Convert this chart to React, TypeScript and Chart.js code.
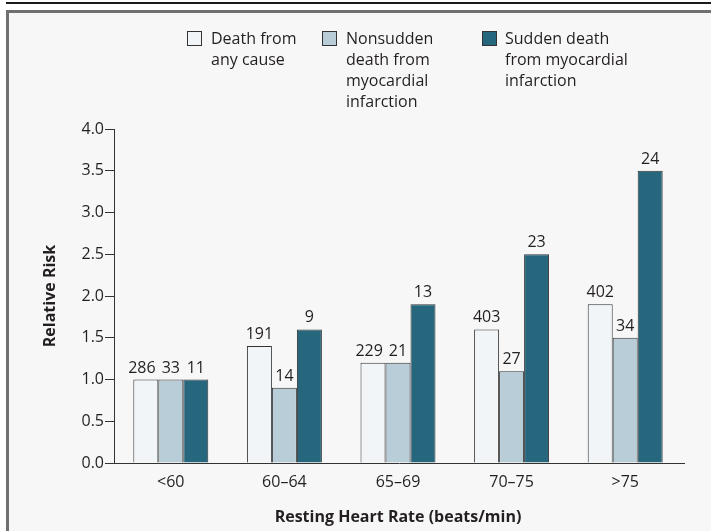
import React, { useEffect, useRef } from "react";
import { Chart, registerables } from "chart.js";

Chart.register(...registerables);

const categories = ["<60", "60–64", "65–69", "70–75", ">75"];
const anyCause = [1.0, 1.4, 1.2, 1.6, 1.9];
const nonsudden = [1.0, 0.9, 1.2, 1.1, 1.5];
const sudden = [1.0, 1.6, 1.9, 2.5, 3.5];
const anyCauseCounts = [286, 191, 229, 403, 402];
const nonsuddenCounts = [33, 14, 21, 27, 34];
const suddenCounts = [11, 9, 13, 23, 24];
const seriesLines = [
  ["Death from", "any cause"],
  ["Nonsudden", "death from", "myocardial", "infarction"],
  ["Sudden death", "from myocardial", "infarction"],
];
const seriesColors = ["#f1f5f8", "#b9cdd8", "#26677e"];
const yTitle = "Relative Risk";
const xTitle = "Resting Heart Rate (beats/min)";

const FONT = '"Open Sans", "Noto Sans", sans-serif';
const TEXT = "#231f20";

const counts = [anyCauseCounts, nonsuddenCounts, suddenCounts];

const valueLabels = {
  id: "valueLabels",
  afterDatasetsDraw(chart: any) {
    const ctx = chart.ctx;
    ctx.save();
    ctx.font = `16px ${FONT}`;
    ctx.fillStyle = TEXT;
    ctx.textAlign = "center";
    ctx.textBaseline = "alphabetic";
    const nData = chart.data.labels.length;
    const nSets = chart.data.datasets.length;
    const gap = 6;
    for (let j = 0; j < nData; j++) {
      const items: { x: number; y: number; w: number; t: string }[] = [];
      for (let i = 0; i < nSets; i++) {
        const bar = chart.getDatasetMeta(i).data[j];
        const t = String(counts[i][j]);
        items.push({ x: bar.x, y: bar.y - 7, w: ctx.measureText(t).width, t });
      }
      // nudge labels left when they would collide with the next one
      for (let i = nSets - 2; i >= 0; i--) {
        const a = items[i];
        const b = items[i + 1];
        if (Math.abs(a.y - b.y) < 14) {
          const aRight = a.x + a.w / 2;
          const bLeft = b.x - b.w / 2;
          if (aRight + gap > bLeft) a.x = bLeft - gap - a.w / 2;
        }
      }
      items.forEach((it) => ctx.fillText(it.t, it.x, it.y));
    }
    ctx.restore();
  },
};

const baseline = {
  id: "baseline",
  afterDraw(chart: any) {
    const { ctx, chartArea } = chart;
    ctx.save();
    ctx.strokeStyle = "#333";
    ctx.lineWidth = 1;
    ctx.beginPath();
    ctx.moveTo(chartArea.left, chartArea.bottom + 0.5);
    ctx.lineTo(chartArea.right + 3, chartArea.bottom + 0.5);
    ctx.stroke();
    ctx.restore();
  },
};

const legendPos = [
  { box: 187, text: 211 },
  { box: 322, text: 346 },
  { box: 482, text: 505 },
];

export default function App() {
  const ref = useRef<HTMLCanvasElement | null>(null);

  useEffect(() => {
    if (!ref.current) return;
    const datasets = [anyCause, nonsudden, sudden].map((d, i) => ({
      label: seriesLines[i].join(" "),
      data: d,
      backgroundColor: seriesColors[i],
      borderColor: "#333",
      borderWidth: 1,
      barPercentage: 1.0,
      categoryPercentage: 0.66,
    }));
    const chart = new Chart(ref.current, {
      type: "bar",
      data: { labels: categories, datasets },
      options: {
        responsive: false,
        animation: false,
        devicePixelRatio: 1,
        layout: { padding: { left: 0, right: 29, top: 129, bottom: 0 } },
        plugins: {
          legend: { display: false },
          tooltip: { enabled: false },
        },
        scales: {
          x: {
            grid: { display: false, drawTicks: false, tickLength: 0 },
            border: { display: false },
            ticks: {
              font: { family: FONT, size: 16 },
              color: TEXT,
              padding: 10,
            },
            title: {
              display: true,
              text: xTitle,
              font: { family: FONT, size: 16, weight: "bold" },
              color: TEXT,
              padding: { top: 0, bottom: 4 },
            },
            afterFit: (s: any) => {
              s.height = 68;
            },
          },
          y: {
            min: 0,
            max: 4,
            grid: {
              display: true,
              drawOnChartArea: false,
              drawTicks: true,
              tickLength: 9,
              color: "#333",
            },
            border: { display: true, color: "#333", width: 1 },
            ticks: {
              stepSize: 0.5,
              font: { family: FONT, size: 16 },
              color: TEXT,
              padding: 1,
              callback: (v: any) => Number(v).toFixed(1),
            },
            title: {
              display: true,
              text: yTitle,
              font: { family: FONT, size: 16, weight: "bold" },
              color: TEXT,
              padding: { top: 41, bottom: 0 },
            },
            afterFit: (s: any) => {
              s.width = 114;
            },
          },
        },
      },
      plugins: [valueLabels, baseline],
    });
    return () => chart.destroy();
  }, []);

  return (
    <div
      style={{
        position: "absolute",
        left: 0,
        top: 0,
        width: 711,
        height: 531,
        background: "#fff",
        overflow: "hidden",
        fontFamily: FONT,
      }}
    >
      <div
        style={{
          position: "absolute",
          left: 6,
          right: 0,
          top: 2,
          height: 2,
          background: "#1a1a1a",
        }}
      />
      <div
        style={{
          position: "absolute",
          left: 6,
          top: 10,
          width: 720,
          height: 540,
          boxSizing: "border-box",
          borderTop: "3px solid #707070",
          borderLeft: "3px solid #707070",
          background: "#f7f7f7",
        }}
      />
      <canvas
        ref={ref}
        width={711}
        height={531}
        style={{ position: "absolute", left: 0, top: 0, display: "block" }}
      />
      {legendPos.map((p, i) => (
        <React.Fragment key={i}>
          <div
            style={{
              position: "absolute",
              left: p.box,
              top: 31,
              width: 15,
              height: 15,
              boxSizing: "border-box",
              border: "1px solid #333",
              background: seriesColors[i],
            }}
          />
          <div
            style={{
              position: "absolute",
              left: p.text,
              top: 28,
              fontSize: 16,
              lineHeight: "21px",
              color: TEXT,
              whiteSpace: "nowrap",
            }}
          >
            {seriesLines[i].map((l, k) => (
              <div key={k}>{l}</div>
            ))}
          </div>
        </React.Fragment>
      ))}
    </div>
  );
}
